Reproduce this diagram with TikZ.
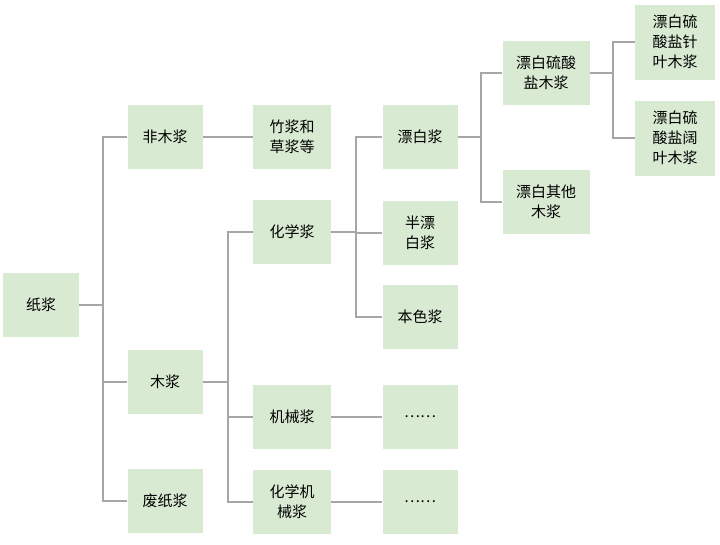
\documentclass[tikz,border=0pt]{standalone}
\usepackage{fontspec}
\newfontfamily\cjk{Noto Sans CJK SC}
\usetikzlibrary{positioning}
\definecolor{boxgreen}{HTML}{D9EAD3}
\definecolor{linegray}{HTML}{A6A6A6}
\begin{document}
\begin{tikzpicture}[x=1pt,y=-1pt,
        every node/.style={fill=boxgreen,inner sep=0pt,align=center,
            font=\cjk\fontsize{15}{20}\selectfont},
        box/.style={minimum width=75pt,minimum height=64pt},
        wide/.style={minimum width=87pt,minimum height=64pt},
        tall/.style={minimum width=80pt,minimum height=75pt},
        link/.style={draw=linegray,line width=2pt}]
    \useasboundingbox (0,0) rectangle (720,544);

    \node[box,minimum width=76pt] (pulp) at (41,305) {纸浆};
    \node[box] (nonwood) at (165,137) {非木浆};
    \node[box] (wood) at (165,382) {木浆};
    \node[box] (waste) at (165,501) {废纸浆};
    \node[box,minimum width=78pt] (bamboo) at (292,137) {竹浆和\\草浆等};
    \node[box,minimum width=78pt] (chem) at (292,232) {化学浆};
    \node[box,minimum width=78pt] (mech) at (292,417) {机械浆};
    \node[box,minimum width=78pt] (chemmech) at (292,502) {化学机\\械浆};
    \node[box] (bleach) at (420,137) {漂白浆};
    \node[box] (semi) at (420,233) {半漂\\白浆};
    \node[box] (natural) at (420,317) {本色浆};
    \node[box] (dots1) at (420,417) {……};
    \node[box] (dots2) at (420,502) {……};
    \node[wide] (kraft) at (546,73) {漂白硫酸\\盐木浆};
    \node[wide] (other) at (546,202) {漂白其他\\木浆};
    \node[tall] (soft) at (675,42) {漂白硫\\酸盐针\\叶木浆};
    \node[tall] (hard) at (675,138) {漂白硫\\酸盐阔\\叶木浆};

    % elbow connectors
    \foreach \to in {nonwood,wood,waste}
        \draw[link] (pulp.east) -- (103,305) |- (\to.west);
    \draw[link] (nonwood) -- (bamboo);
    \foreach \to in {chem,mech,chemmech}
        \draw[link] (wood.east) -- (228,382) |- (\to.west);
    \foreach \to in {bleach,semi,natural}
        \draw[link] (chem.east) -- (356,232) |- (\to.west);
    \draw[link] (mech) -- (dots1);
    \draw[link] (chemmech) -- (dots2);
    \foreach \to in {kraft,other}
        \draw[link] (bleach.east) -- (481,137) |- (\to.west);
    \foreach \to in {soft,hard}
        \draw[link] (kraft.east) -- (613,73) |- (\to.west);
\end{tikzpicture}
\end{document}
